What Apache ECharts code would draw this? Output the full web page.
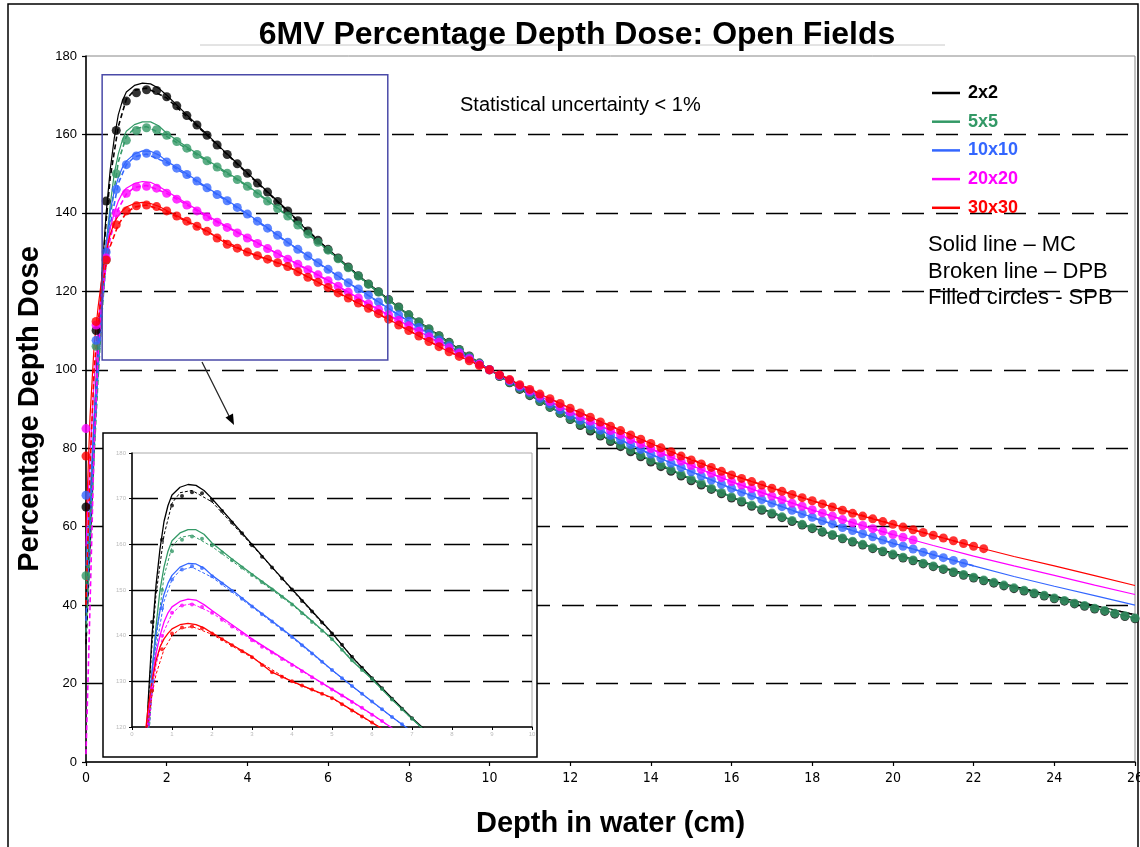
<!DOCTYPE html>
<html>
<head>
<meta charset="utf-8">
<title>6MV Percentage Depth Dose</title>
<script src="https://cdn.jsdelivr.net/npm/echarts@6/dist/echarts.min.js"></script>
<style>
  html, body { margin: 0; padding: 0; background: #fff; overflow: hidden; }
  #chart { width: 1140px; height: 847px; }
</style>
</head>
<body>
<div id="chart"></div>
<script>
// field sizes and their colours
const fieldNames = ["2x2", "5x5", "10x10", "20x20", "30x30"];
const fieldColors = ["#000000", "#339966", "#3366ff", "#ff00ff", "#ff0000"];

// MC (solid line) depths and doses
const depthMC = [0, 0.1, 0.2, 0.3, 0.4, 0.5, 0.6, 0.7, 0.8, 0.9, 1.0, 1.2, 1.4, 1.6, 1.8,
  2.0, 2.5, 3.0, 3.5, 4.0, 4.5, 5.0, 5.5, 6.0, 6.5, 7.0, 7.5, 8.0, 8.5, 9.0, 9.5, 10,
  11, 12, 13, 14, 15, 16, 17, 18, 19, 20, 21, 22, 23, 24, 25, 26];
const mc2 = [38, 62, 86, 108, 125, 140, 151, 159, 165, 168.5, 170.8, 172.5, 173.1, 172.9, 171.8,
  170, 165, 160, 155, 150.2, 145.4, 140.6, 135.3, 130.8, 126.3, 122, 118, 114, 110.5, 107, 103.5, 100,
  93.5, 87.5, 82, 76.8, 72, 67.6, 63.5, 59.8, 56.4, 53.2, 50.2, 47.4, 44.8, 42.3, 39.9, 37.6];
const mc5 = [45, 62, 82, 100, 118, 132, 142, 150, 155, 158.5, 160.8, 162.5, 163.2, 163.2, 162.2,
  160.3, 156.8, 153.5, 150.3, 147, 143.2, 139.3, 134.5, 130.5, 126, 121.8, 117.8, 114, 110.4, 106.9, 103.4, 100,
  93.6, 87.5, 82.1, 76.9, 72.1, 67.6, 63.5, 59.7, 56.3, 53, 50, 47.1, 44.4, 41.8, 39.2, 36.7];
const mc10 = [50, 68, 88, 105, 120, 132, 140.5, 145.5, 149, 151.5, 153.2, 155, 155.8, 155.7, 154.8,
  153.2, 150, 146.5, 143.2, 139.8, 136.2, 132.5, 129, 125.6, 122.2, 119, 115.6, 112.4, 109.2, 106.1, 103, 100,
  94.2, 88.4, 83.3, 78.5, 74, 69.8, 66, 62.4, 59, 55.8, 52.8, 50, 47.3, 44.8, 42.4, 40];
const mc20 = [55, 78, 97, 111, 122, 130, 136, 140, 143, 145, 146.3, 147.5, 148, 147.8, 146.8,
  145.5, 142.4, 139.3, 136.5, 133.8, 131, 128.3, 125.6, 122.8, 119.8, 116.8, 114, 111.2, 108.4, 105.6, 102.8, 100,
  94.6, 89.3, 84.5, 79.9, 75.6, 71.5, 67.8, 64.3, 61, 58, 55.2, 52.5, 50, 47.6, 45.1, 42.7];
const mc30 = [60, 88, 106, 116, 124, 130, 134.5, 137.5, 139.3, 140.5, 141.5, 142.4, 142.7, 142.4, 141.7,
  140.6, 138, 135.4, 132, 130, 128.2, 126.4, 123.7, 121, 118.3, 115.7, 112.9, 110, 107.2, 104.6, 102.3, 100,
  95, 90.2, 85.6, 81.2, 77, 73.2, 69.8, 66.6, 63.4, 60.6, 57.8, 55, 52.4, 50, 47.5, 45];

// DPB (broken line) depths and doses
const depthDPB = [0, 0.1, 0.2, 0.3, 0.4, 0.5, 0.6, 0.8, 1.0, 1.2, 1.5, 2.0, 3, 4, 5, 6, 7, 8, 9, 10,
  12, 14, 16, 18, 20, 22, 24, 26];
const dpb2 = [30, 55, 80, 105, 124, 138, 149, 162, 169, 171.3, 171.8, 169.3, 159.8, 150, 140.4, 130.6, 121.8, 113.9, 106.9, 100,
  87.4, 76.7, 67.5, 59.7, 53.1, 47.3, 42.2, 37.5];
const dpb5 = [33, 55, 78, 98, 115, 128, 139, 153, 159.5, 161.5, 162, 159.5, 153.2, 146.8, 139.2, 130.4, 121.7, 113.9, 106.8, 100,
  87.5, 76.9, 67.6, 59.7, 53, 47.1, 41.8, 36.7];
const dpb10 = [36, 60, 82, 100, 116, 128, 137, 147.5, 152.3, 154.3, 155, 152.8, 146.3, 139.6, 132.4, 125.5, 118.9, 112.3, 106, 100,
  88.3, 78.4, 69.7, 62.3, 55.7, 50];
const dpb20 = [2, 40, 80, 104, 118, 127, 133.5, 141, 144.8, 146.5, 147, 145, 139, 133.6, 128.2, 122.7, 116.7, 111.1, 105.5, 100,
  89.2, 79.8, 71.4, 64.2, 57.9];
const dpb30 = [40, 75, 100, 112, 121, 127, 131.5, 137, 140, 141.5, 142, 140.3, 135.2, 129.9, 126.3, 120.9, 115.6, 110, 104.6, 100,
  90.2, 81.2, 73.2, 66.6, 60.6, 55];

// SPB (filled circles) depths and doses
const depthSPB = [0, 0.25, 0.5, 0.75, 1, 1.25, 1.5, 1.75, 2, 2.25, 2.5, 2.75, 3, 3.25, 3.5, 3.75,
  4, 4.25, 4.5, 4.75, 5, 5.25, 5.5, 5.75, 6, 6.25, 6.5, 6.75, 7, 7.25, 7.5, 7.75,
  8, 8.25, 8.5, 8.75, 9, 9.25, 9.5, 9.75, 10, 10.25, 10.5, 10.75, 11, 11.25, 11.5, 11.75,
  12, 12.25, 12.5, 12.75, 13, 13.25, 13.5, 13.75, 14, 14.25, 14.5, 14.75, 15, 15.25, 15.5, 15.75,
  16, 16.25, 16.5, 16.75, 17, 17.25, 17.5, 17.75, 18, 18.25, 18.5, 18.75, 19, 19.25, 19.5, 19.75,
  20, 20.25, 20.5, 20.75, 21, 21.25, 21.5, 21.75, 22, 22.25, 22.5, 22.75, 23, 23.25, 23.5, 23.75,
  24, 24.25, 24.5, 24.75, 25, 25.25, 25.5, 25.75, 26];
const spb2 = [65, 110, 143, 161, 168.5, 170.6, 171.4, 171.2, 169.6, 167.3, 164.8, 162.4, 159.8, 157.3, 154.9, 152.5,
  150.1, 147.6, 145.3, 142.9, 140.5, 138, 135.4, 133, 130.7, 128.5, 126.2, 124, 121.9, 119.9, 117.9, 116,
  114, 112.2, 110.4, 108.7, 107, 105.2, 103.5, 101.7, 100,
  98.3, 96.7, 95, 93.4, 91.9, 90.4, 88.9, 87.3, 85.8, 84.4, 83.1, 81.7, 80.4, 79.1, 77.8, 76.5,
  75.3, 74.1, 72.9, 71.7, 70.6, 69.5, 68.4, 67.3, 66.3, 65.2, 64.2, 63.2, 62.3, 61.3, 60.4, 59.5,
  58.6, 57.8, 56.9, 56.1, 55.3, 54.4, 53.6, 52.8, 52, 51.3, 50.5, 49.8, 49.1, 48.3, 47.6, 46.9,
  46.2, 45.6, 44.9, 44.2, 43.6, 42.9, 42.3, 41.6, 41, 40.3, 39.7, 39, 38.4, 37.7, 37.1, 36.5];
const spb5 = [47.5, 106, 128, 150, 158.5, 161, 161.7, 161.2, 159.8, 158.2, 156.5, 154.9, 153.3, 151.7, 150.1, 148.5,
  146.8, 144.9, 143, 141.1, 139.2, 136.9, 134.6, 132.5, 130.5, 128.3, 126, 123.9, 121.8, 119.8, 117.8, 115.9,
  114, 112.2, 110.4, 108.6, 106.9, 105.1, 103.4, 101.7, 100,
  98.4, 96.8, 95.2, 93.6, 92, 90.5, 89, 87.5, 86.1, 84.8, 83.4, 82.1, 80.8, 79.5, 78.2, 76.9,
  75.7, 74.5, 73.3, 72.1, 71, 69.8, 68.7, 67.6, 66.6, 65.5, 64.5, 63.5, 62.5, 61.6, 60.6, 59.7,
  58.8, 58, 57.1, 56.3, 55.5, 54.6, 53.8, 53, 52.2, 51.5, 50.7, 50, 49.3, 48.5, 47.8, 47.1,
  46.4, 45.8, 45.1, 44.4, 43.8, 43.1, 42.5, 41.8, 41.2, 40.5, 39.9, 39.2, 38.6, 37.9, 37.3, 36.7];
const spb10 = [68, 107.5, 130, 146, 152.3, 154.5, 155.2, 154.8, 153, 151.4, 149.8, 148.1, 146.4, 144.7, 143.1, 141.4,
  139.7, 137.9, 136.1, 134.3, 132.5, 130.7, 129, 127.3, 125.6, 123.9, 122.2, 120.6, 119, 117.3, 115.6, 114,
  112.4, 110.8, 109.2, 107.6, 106.1, 104.5, 103, 101.5, 100,
  98.5, 97.1, 95.6, 94.2, 92.7, 91.3, 89.8, 88.4, 87.1, 85.8, 84.6, 83.3, 82.1, 80.9, 79.7, 78.5,
  77.4, 76.2, 75.1, 74, 72.9, 71.9, 70.8, 69.8, 68.8, 67.9, 66.9, 66, 65.1, 64.2, 63.3, 62.4,
  61.5, 60.7, 59.8, 59, 58.2, 57.4, 56.6, 55.8, 55, 54.3, 53.5, 52.8, 52.1, 51.4, 50.7];
const spb20 = [85, 111.4, 128.5, 140, 145, 146.6, 146.8, 146.3, 145, 143.5, 142, 140.5, 139, 137.6, 136.3, 134.9,
  133.6, 132.2, 130.9, 129.5, 128.2, 126.9, 125.5, 124.2, 122.7, 121.3, 119.8, 118.3, 116.8, 115.4, 114, 112.6,
  111.2, 109.8, 108.4, 107, 105.6, 104.2, 102.8, 101.4, 100,
  98.6, 97.3, 95.9, 94.6, 93.3, 91.9, 90.6, 89.3, 88.1, 86.9, 85.7, 84.5, 83.4, 82.2, 81.1, 79.9,
  78.8, 77.8, 76.7, 75.6, 74.6, 73.6, 72.5, 71.5, 70.6, 69.7, 68.7, 67.8, 66.9, 66, 65.2, 64.3,
  63.5, 62.7, 61.8, 61, 60.3, 59.5, 58.8, 58, 57.3, 56.6];
const spb30 = [78, 112.3, 128, 137, 140.5, 141.8, 142, 141.6, 140.5, 139.2, 137.9, 136.6, 135.3, 133.6, 132, 131,
  130, 129.1, 128.2, 127.3, 126.3, 125, 123.6, 122.3, 121, 119.6, 118.3, 117, 115.7, 114.3, 112.9, 111.4,
  110, 108.6, 107.2, 105.9, 104.6, 103.4, 102.3, 101.1, 100,
  98.7, 97.5, 96.2, 95, 93.8, 92.6, 91.4, 90.2, 89, 87.9, 86.7, 85.6, 84.5, 83.4, 82.3, 81.2,
  80.1, 79.1, 78, 77, 76, 75.1, 74.1, 73.2, 72.3, 71.5, 70.6, 69.8, 69, 68.2, 67.4, 66.6,
  65.8, 65, 64.2, 63.4, 62.7, 62, 61.3, 60.6, 59.9, 59.2, 58.5, 57.8, 57.1, 56.4, 55.7, 55, 54.4];

const mcData = [mc2, mc5, mc10, mc20, mc30];
const dpbData = [dpb2, dpb5, dpb10, dpb20, dpb30];
const spbData = [spb2, spb5, spb10, spb20, spb30];

// zoom box corners in data units (depth, dose)
const zoomBoxFrom = [0.4, 175.2];
const zoomBoxTo = [7.48, 102.5];

const FONT = '"Liberation Sans", Arial, sans-serif';
const NARROW = '"Liberation Sans Narrow", "DejaVu Sans Condensed", "Liberation Sans", sans-serif';

function pairs(xs, ys) {
  return ys.map((v, i) => [xs[i], v]);
}

function buildSeries(gridIndex, big) {
  const out = [];
  fieldNames.forEach((name, k) => {
    const color = fieldColors[k];
    const base = { xAxisIndex: gridIndex, yAxisIndex: gridIndex, silent: true, animation: false, z: big ? 5 : 4 };
    out.push({
      ...base,
      name: big ? name : name + " MC inset",
      type: "line",
      symbol: "none",
      data: pairs(depthMC, mcData[k]),
      itemStyle: { color },
      lineStyle: { color, width: big ? 1.2 : 1.3 },
    });
    out.push({
      ...base,
      name: name + (big ? " DPB" : " DPB inset"),
      type: "line",
      symbol: "none",
      data: pairs(depthDPB, dpbData[k]),
      lineStyle: { color, width: big ? 1.6 : 1, type: big ? [5, 3] : [3, 2] },
    });
    out.push({
      ...base,
      name: name + (big ? " SPB" : " SPB inset"),
      type: "scatter",
      symbol: "circle",
      symbolSize: big ? 9 : 4,
      clip: true,
      data: pairs(depthSPB, spbData[k]),
      itemStyle: { color },
    });
  });
  return out;
}

const chart = echarts.init(document.getElementById("chart"));

const option = {
  animation: false,
  backgroundColor: "#ffffff",
  title: {
    text: "6MV Percentage Depth Dose: Open Fields",
    left: 572,
    textAlign: "center",
    top: 14,
    textStyle: { fontFamily: FONT, fontSize: 32, fontWeight: "bold", color: "#000" },
  },
  legend: {
    orient: "vertical",
    left: 927,
    top: 79,
    itemWidth: 28,
    itemHeight: 18,
    itemGap: 10.7,
    selectedMode: false,
    icon: "path://M0,0L28,0L28,2.5L0,2.5Z",
    textStyle: { fontFamily: FONT, fontSize: 18, fontWeight: "bold", padding: [0, 0, 0, 3] },
    data: fieldNames.map((n, k) => ({ name: n, itemStyle: { color: fieldColors[k] }, textStyle: { color: fieldColors[k] } })),
  },
  grid: [
    { left: 86, right: 5, top: 56, bottom: 85, show: true, borderColor: "#888", borderWidth: 1,
      containLabel: false, outerBoundsMode: "none" },
    { left: 132, top: 453, width: 400, height: 274, show: true, borderColor: "#aaa", borderWidth: 1,
      backgroundColor: "#fff", z: 2, containLabel: false, outerBoundsMode: "none" },
  ],
  xAxis: [
    {
      gridIndex: 0, type: "value", min: 0, max: 26, interval: 2,
      name: "Depth in water (cm)", nameLocation: "middle", nameGap: 47,
      nameTextStyle: { fontFamily: FONT, fontSize: 29, fontWeight: "bold", color: "#000" },
      axisLine: { lineStyle: { color: "#000", width: 1.5 } },
      axisTick: { length: 4, lineStyle: { color: "#000", width: 1.2 } },
      axisLabel: { fontFamily: NARROW, fontSize: 14, color: "#000", margin: 9 },
      splitLine: { show: false },
    },
    {
      gridIndex: 1, type: "value", min: 0, max: 10, interval: 1, z: 3,
      axisLine: { lineStyle: { color: "#000", width: 1.5 } },
      axisTick: { length: 3, lineStyle: { color: "#000" } },
      axisLabel: { fontFamily: FONT, fontSize: 6, color: "#bbb", margin: 4 },
      splitLine: { show: false },
    },
  ],
  yAxis: [
    {
      gridIndex: 0, type: "value", min: 0, max: 180, interval: 20,
      name: "Percentage Depth Dose", nameLocation: "middle", nameGap: 36,
      nameTextStyle: { fontFamily: FONT, fontSize: 29, fontWeight: "bold", color: "#000" },
      axisLine: { show: true, lineStyle: { color: "#000", width: 1.5 } },
      axisTick: { show: true, length: 4, lineStyle: { color: "#000", width: 1.2 } },
      axisLabel: { fontFamily: FONT, fontSize: 13, color: "#000", margin: 9 },
      splitLine: { show: true, showMinLine: false, showMaxLine: false,
        lineStyle: { color: "#000", width: 1.4, type: [22, 12] } },
    },
    {
      gridIndex: 1, type: "value", min: 120, max: 180, interval: 10, z: 3,
      axisLine: { show: true, lineStyle: { color: "#000", width: 1.5 } },
      axisTick: { show: true, length: 3, lineStyle: { color: "#000" } },
      axisLabel: { fontFamily: FONT, fontSize: 6, color: "#bbb", margin: 6 },
      splitLine: { show: true, showMinLine: false, showMaxLine: false,
        lineStyle: { color: "#000", width: 1.4, type: [26, 13] } },
    },
  ],
  series: [...buildSeries(0, true), ...buildSeries(1, false)],
};

chart.setOption(option);

// annotation graphics: frame, inset box, zoom box, arrow and notes
const p1 = chart.convertToPixel({ gridIndex: 0 }, zoomBoxFrom);
const p2 = chart.convertToPixel({ gridIndex: 0 }, zoomBoxTo);

chart.setOption({
  graphic: [
    { type: "rect", z: 0, silent: true, shape: { x: 8, y: 4, width: 1130, height: 860 },
      style: { fill: "none", stroke: "#000", lineWidth: 1.5 } },
    { type: "line", z: 0, silent: true, shape: { x1: 200, y1: 45, x2: 945, y2: 45 },
      style: { stroke: "#c8c8c8", lineWidth: 1 } },
    { type: "rect", z: 1, silent: true, shape: { x: 103, y: 433, width: 434, height: 324 },
      style: { fill: "#fff", stroke: "#000", lineWidth: 1.5 } },
    { type: "rect", z: 6, silent: true,
      shape: { x: p1[0], y: p1[1], width: p2[0] - p1[0], height: p2[1] - p1[1] },
      style: { fill: "none", stroke: "#4a4aa8", lineWidth: 1.5 } },
    { type: "line", z: 6, silent: true, shape: { x1: 202, y1: 362, x2: 229, y2: 416 },
      style: { stroke: "#222", lineWidth: 1.3 } },
    { type: "polygon", z: 6, silent: true, shape: { points: [[234, 425], [225.5, 417.5], [233, 413.5]] },
      style: { fill: "#000" } },
    { type: "text", z: 6, silent: true, x: 460, y: 105,
      style: { text: "Statistical uncertainty < 1%", font: "20px " + FONT, fill: "#000", verticalAlign: "middle" } },
    { type: "text", z: 6, silent: true, x: 928, y: 245,
      style: { text: "Solid line \u2013 MC", font: "22px " + FONT, fill: "#000", verticalAlign: "middle" } },
    { type: "text", z: 6, silent: true, x: 928, y: 271.5,
      style: { text: "Broken line \u2013 DPB", font: "22px " + FONT, fill: "#000", verticalAlign: "middle" } },
    { type: "text", z: 6, silent: true, x: 928, y: 298,
      style: { text: "Filled circles - SPB", font: "22px " + FONT, fill: "#000", verticalAlign: "middle" } },
  ],
});
</script>
</body>
</html>
